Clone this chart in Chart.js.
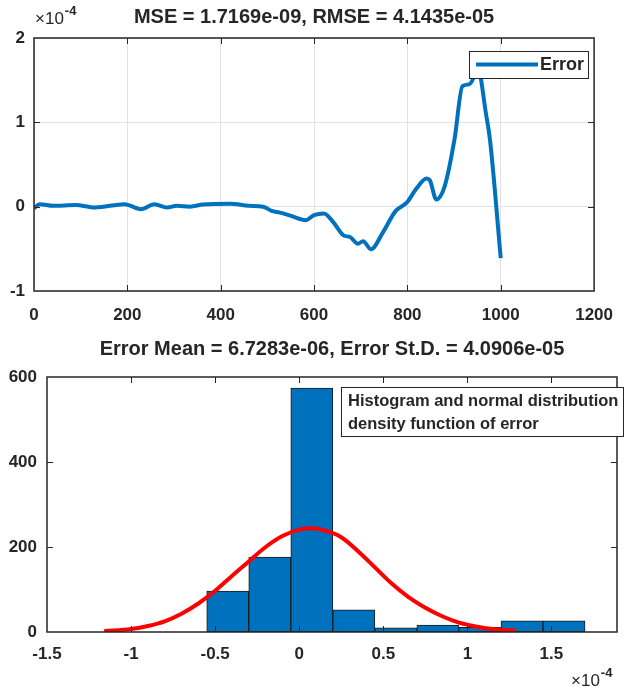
<!DOCTYPE html>
<html>
<head>
<meta charset="utf-8">
<script src="https://cdn.jsdelivr.net/npm/chart.js@4/dist/chart.umd.min.js"></script>
<style>
    html, body { margin: 0; padding: 0; background: #fff; overflow: hidden; }
    #wrap { position: relative; width: 627px; height: 691px; }
    .pane { position: absolute; left: 0; width: 627px; }
    #top-pane { top: 0; height: 335px; }
    #bottom-pane { top: 335px; height: 356px; }
</style>
</head>
<body>
<div id="wrap">
    <div class="pane" id="top-pane"><canvas id="error-chart"></canvas></div>
    <div class="pane" id="bottom-pane"><canvas id="hist-chart"></canvas></div>
</div>
<script>
// Error signal (values in units of 1e-4)
const errorIndex = [0, 12, 41, 89, 131, 194, 229, 258, 285, 306, 334, 362, 421, 460, 491, 509, 527, 551, 582, 600, 621, 642, 663, 677, 694, 705, 722, 747, 775, 799, 820, 841, 848, 862, 880, 901, 918, 932, 943, 950, 958, 967, 977, 1000];
const errorValue = [-0.02, 0.03, 0.01, 0.02, -0.01, 0.03, -0.03, 0.03, -0.01, 0.01, 0.0, 0.025, 0.035, 0.01, 0.0, -0.05, -0.07, -0.11, -0.16, -0.10, -0.08, -0.19, -0.34, -0.36, -0.44, -0.41, -0.505, -0.31, -0.05, 0.05, 0.22, 0.335, 0.315, 0.086, 0.244, 0.80, 1.43, 1.45, 1.55, 1.72, 1.5, 1.15, 0.79, -0.61];
const errorXTicks = [0, 200, 400, 600, 800, 1000, 1200];
const errorYTicks = [-1, 0, 1, 2];

// Histogram (bin centres in units of 1e-4)
const binCenters = [-0.425, -0.175, 0.075, 0.325, 0.575, 0.825, 1.075, 1.325, 1.575];
const binCounts = [96, 176, 574, 52, 10, 16, 11, 26, 26];
// Fitted normal density curve
const fitX = [-1.16, -1.0, -0.9, -0.8, -0.7, -0.6, -0.5, -0.4, -0.3, -0.2, -0.1, 0.0, 0.07, 0.15, 0.25, 0.35, 0.45, 0.55, 0.65, 0.75, 0.85, 0.95, 1.05, 1.15, 1.29];
const fitY = [2, 7, 14, 25, 43, 67, 97, 132, 166, 200, 226, 241, 244, 239, 223, 190, 152, 114, 82, 57, 37, 22, 13, 7, 3];
const histXTicks = [-1.5, -1, -0.5, 0, 0.5, 1, 1.5];
const histXLabels = ['-1.5', '-1', '-0.5', '0', '0.5', '1', '1.5'];
const histYTicks = [0, 200, 400, 600];

const BLUE = '#0072BD';
const INK = '#262626';
const FONT = '"Liberation Sans", Arial, sans-serif';

const tickFont = { family: FONT, size: 17, weight: 'bold' };

// Draws the MATLAB-style box, inward ticks, title, legend and exponent label
const matlabFrame = {
    id: 'matlabFrame',
    afterDatasetsDraw(chart, args, opts) {
        const { ctx, chartArea: a, scales } = chart;
        ctx.save();

        ctx.strokeStyle = INK;
        ctx.lineWidth = 1;
        ctx.beginPath();
        scales.x.ticks.forEach((t) => {
            const px = Math.round(scales.x.getPixelForValue(t.value)) + 0.5;
            if(px < a.left + 2 || px > a.right - 2) return;
            ctx.moveTo(px, a.bottom); ctx.lineTo(px, a.bottom - 6);
            ctx.moveTo(px, a.top); ctx.lineTo(px, a.top + 6);
        });
        scales.y.ticks.forEach((t) => {
            const py = Math.round(scales.y.getPixelForValue(t.value)) + 0.5;
            if(py < a.top + 2 || py > a.bottom - 2) return;
            ctx.moveTo(a.left, py); ctx.lineTo(a.left + 6, py);
            ctx.moveTo(a.right, py); ctx.lineTo(a.right - 6, py);
        });
        ctx.stroke();

        ctx.lineWidth = 1.5;
        ctx.strokeRect(a.left, a.top, a.right - a.left, a.bottom - a.top);

        // title
        ctx.fillStyle = INK;
        ctx.font = `bold 20px ${FONT}`;
        ctx.textAlign = 'center';
        ctx.textBaseline = 'middle';
        ctx.fillText(opts.title, (a.left + a.right) / 2, opts.titleY);

        // x10^-4 exponent label
        const ex = opts.exponent;
        ctx.textAlign = 'left';
        ctx.font = `17px ${FONT}`;
        ctx.fillText('\u00d710', ex.x, ex.y);
        const w = ctx.measureText('\u00d710').width;
        ctx.font = `bold 13px ${FONT}`;
        ctx.fillText('-4', ex.x + w + 1, ex.y - 8);

        // legend
        const lg = opts.legend;
        ctx.fillStyle = '#fff';
        ctx.fillRect(lg.x, lg.y, lg.w, lg.h);
        ctx.strokeStyle = INK;
        ctx.lineWidth = 1;
        ctx.strokeRect(lg.x + 0.5, lg.y + 0.5, lg.w, lg.h);
        if(lg.swatch) {
            ctx.strokeStyle = BLUE;
            ctx.lineWidth = 4;
            ctx.beginPath();
            ctx.moveTo(lg.x + 7, lg.y + lg.h / 2);
            ctx.lineTo(lg.x + 69, lg.y + lg.h / 2);
            ctx.stroke();
        }
        ctx.fillStyle = INK;
        ctx.font = `bold ${lg.size}px ${FONT}`;
        ctx.textAlign = 'left';
        ctx.textBaseline = 'middle';
        lg.lines.forEach((line, i) => {
            ctx.fillText(line, lg.x + lg.textX, lg.y + lg.firstY + i * lg.lineGap);
        });

        ctx.restore();
    }
};

function fixedTicks(values) {
    return (scale) => { scale.ticks = values.map((v) => ({ value: v })); };
}

// Top: error curve
new Chart(document.getElementById('error-chart'), {
    type: 'line',
    data: {
        datasets: [{
            label: 'Error',
            data: errorIndex.map((x, i) => ({ x: x, y: errorValue[i] })),
            borderColor: BLUE,
            borderWidth: 4,
            pointRadius: 0,
            cubicInterpolationMode: 'monotone',
            fill: false
        }]
    },
    options: {
        responsive: true,
        maintainAspectRatio: false,
        animation: false,
        events: [],
        layout: { padding: { left: 0, right: 21, top: 38, bottom: 14 } },
        plugins: {
            legend: { display: false },
            tooltip: { enabled: false },
            title: { display: false },
            matlabFrame: {
                title: 'MSE = 1.7169e-09, RMSE = 4.1435e-05',
                titleY: 17,
                exponent: { x: 35, y: 19 },
                legend: { x: 469, y: 51, w: 119, h: 27, swatch: true, size: 18, textX: 71, firstY: 14, lineGap: 0, lines: ['Error'] }
            }
        },
        scales: {
            x: {
                type: 'linear',
                min: 0,
                max: 1200,
                afterBuildTicks: fixedTicks(errorXTicks),
                afterFit: (s) => { s.height = 30; },
                grid: { color: '#e2e2e2', drawTicks: false },
                border: { display: false },
                ticks: { font: tickFont, color: INK, padding: 14, maxRotation: 0, autoSkip: false, callback: (v) => String(v) }
            },
            y: {
                min: -1,
                max: 2,
                afterBuildTicks: fixedTicks(errorYTicks),
                afterFit: (s) => { s.width = 34; },
                grid: { color: '#e2e2e2', drawTicks: false },
                border: { display: false },
                ticks: { font: tickFont, color: INK, padding: 9, autoSkip: false, callback: (v) => String(v) }
            }
        }
    },
    plugins: [matlabFrame]
});

// Bottom: histogram with fitted normal density
new Chart(document.getElementById('hist-chart'), {
    type: 'bar',
    data: {
        datasets: [{
            type: 'line',
            label: 'fit',
            data: fitX.map((x, i) => ({ x: x, y: fitY[i] })),
            borderColor: '#ff0000',
            borderWidth: 4,
            pointRadius: 0,
            cubicInterpolationMode: 'monotone',
            fill: false,
            order: 1
        }, {
            type: 'bar',
            label: 'hist',
            data: binCenters.map((x, i) => ({ x: x, y: binCounts[i] })),
            backgroundColor: BLUE,
            borderColor: '#1a1a1a',
            borderWidth: 1,
            borderSkipped: false,
            barPercentage: 1,
            categoryPercentage: 1,
            order: 2
        }]
    },
    options: {
        responsive: true,
        maintainAspectRatio: false,
        animation: false,
        events: [],
        layout: { padding: { left: 0, right: 10, top: 42, bottom: 29 } },
        plugins: {
            legend: { display: false },
            tooltip: { enabled: false },
            title: { display: false },
            matlabFrame: {
                title: 'Error Mean = 6.7283e-06, Error St.D. = 4.0906e-05',
                titleY: 14,
                exponent: { x: 571, y: 346 },
                legend: { x: 341, y: 52, w: 282, h: 49, swatch: false, size: 16.5, textX: 7, firstY: 14, lineGap: 23,
                    lines: ['Histogram and normal distribution', 'density function of error'] }
            }
        },
        scales: {
            x: {
                type: 'linear',
                min: -1.5,
                max: 1.89,
                offset: false,
                afterBuildTicks: fixedTicks(histXTicks),
                afterFit: (s) => { s.height = 30; },
                grid: { display: false, offset: false, drawTicks: false },
                border: { display: false },
                ticks: {
                    font: tickFont, color: INK, padding: 12, maxRotation: 0, autoSkip: false,
                    callback: (v) => histXLabels[histXTicks.indexOf(v)] ?? ''
                }
            },
            y: {
                min: 0,
                max: 600,
                afterBuildTicks: fixedTicks(histYTicks),
                afterFit: (s) => { s.width = 47; },
                grid: { display: false, drawTicks: false },
                border: { display: false },
                ticks: { font: tickFont, color: INK, padding: 10, autoSkip: false, callback: (v) => String(v) }
            }
        }
    },
    plugins: [matlabFrame]
});
</script>
</body>
</html>
